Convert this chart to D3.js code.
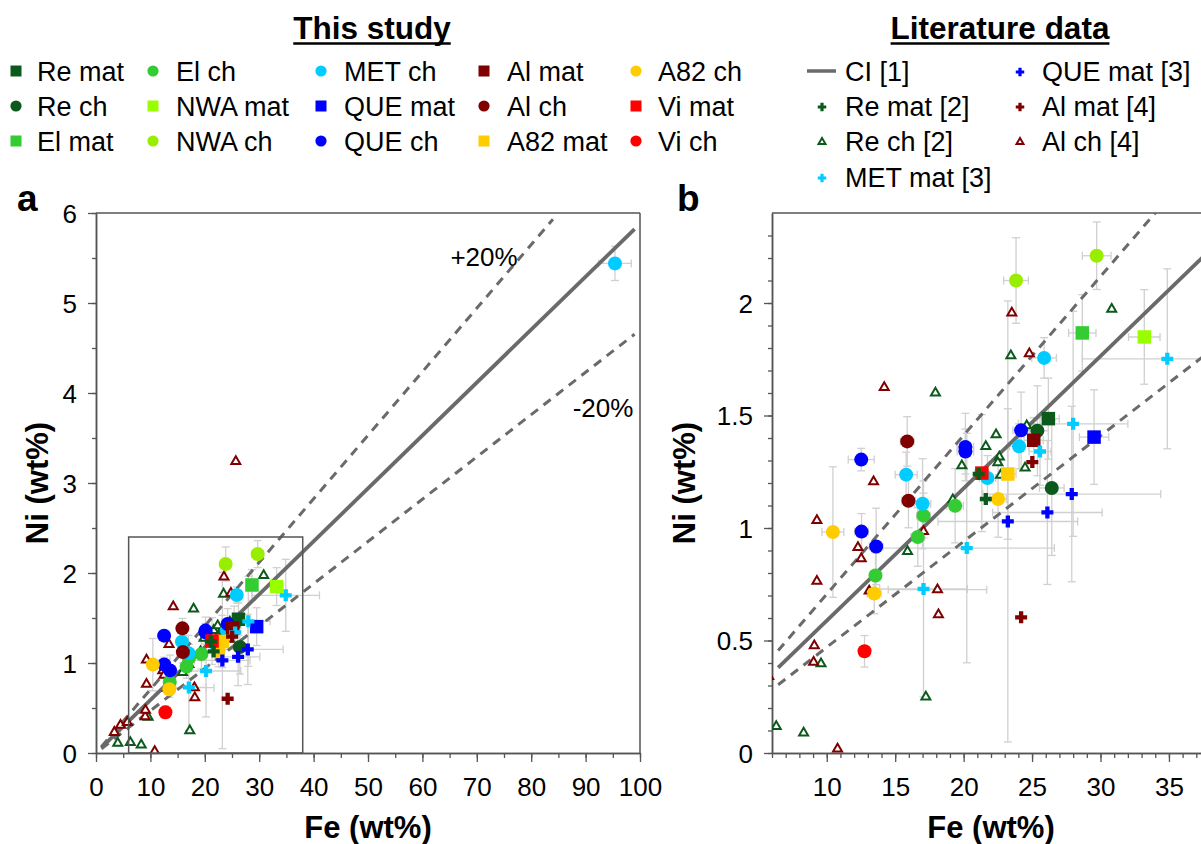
<!DOCTYPE html>
<html>
<head>
<meta charset="utf-8">
<script src="https://cdn.jsdelivr.net/npm/d3@7"></script>
<style>
body { margin: 0; background: #fff; }
text { font-family: "Liberation Sans", Arial, sans-serif; }
</style>
</head>
<body>
<svg id="chart" width="1201" height="844"></svg>
<script>
// ---- data: [Fe, Ni, errFe, errNi] ----
// this study
var reMat  = [[26.19, 1.486, 0.8, 0.18]];
var reCh   = [[25.39, 1.432, 0.8, 0.2], [26.44, 1.178, 0.9, 0.3]];
var elMat  = [[28.67, 1.867, 1.0, 0.17]];
var elCh   = [[13.56, 0.789, 0.4, 0.1], [16.65, 0.96, 0.5, 0.13], [17.07, 1.055, 0.5, 0.1], [19.38, 1.099, 0.6, 0.165]];
var nwaMat = [[33.2, 1.849, 1.15, 0.21]];
var nwaCh  = [[23.83, 2.10, 0.9, 0.19], [29.72, 2.21, 1.05, 0.15]];
var metCh  = [[15.8, 1.237, 0.8, 0.1], [17.0, 1.108, 0.6, 0.2], [21.74, 1.222, 0.6, 0.1], [24.05, 1.363, 0.7, 0.1], [25.88, 1.756, 0.9, 0.09], [95.4, 5.44, 3.0, 0.19]];
var queMat = [[29.53, 1.404, 1.07, 0.21]];
var queCh  = [[12.52, 1.304, 0.95, 0.05], [12.54, 0.984, 0.5, 0.08], [13.61, 0.918, 0.5, 0.17], [20.13, 1.36, 0.6, 0.15], [20.13, 1.34, 0.6, 0.1], [24.2, 1.434, 0.6, 0.17]];
var alMat  = [[25.12, 1.39, 0.7, 0.1]];
var alCh   = [[15.88, 1.385, 0.5, 0.11], [15.97, 1.121, 0.5, 0.12]];
var a82Mat = [[23.23, 1.24, 0.6, 0.29]];
var a82Ch  = [[10.45, 0.982, 0.8, 0.29], [13.47, 0.709, 0.5, 0.09], [22.52, 1.129, 0.6, 0.17]];
var viMat  = [[21.33, 1.244, 0.5, 0.26]];
var viCh   = [[12.76, 0.452, 0.4, 0.07]];

// literature
var litReMat  = [[21.1, 1.24, 0, 0], [21.62, 1.129, 0, 0]];
var litReCh   = [[4.0, 0.11], [6.31, 0.118], [8.31, 0.089], [9.58, 0.397], [15.9, 0.896], [17.24, 0.249], [17.94, 1.6], [19.21, 1.126], [19.87, 1.277], [21.62, 1.363], [22.37, 1.415], [22.61, 1.316], [22.5, 1.29], [22.7, 1.235], [23.45, 1.766], [24.49, 1.267], [24.61, 1.455], [30.82, 1.973]];
var litMetMat = [[17.07, 0.729, 3.2, 0.48], [20.23, 0.911, 6.4, 0.51], [25.58, 1.34, 0.8, 0.15], [28.0, 1.463, 4.0, 0.5], [34.88, 1.752, 6.2, 0.4]];
var litQueMat = [[23.23, 1.029, 5.1, 0.98], [26.12, 1.069, 4.0, 0.32], [27.9, 1.151, 6.5, 0.39]];
var litAlMat  = [[25.02, 1.293, 0, 0], [24.2, 0.603, 0, 0]];
var litAlCh   = [[3.37, 0.23], [4.5, 0.31], [5.76, 0.34], [9.04, 0.404], [9.09, 0.477], [9.28, 0.764], [9.28, 1.034], [10.79, 0.018], [12.28, 0.914], [12.52, 0.864], [13.1, 0.72], [13.42, 1.206], [14.2, 1.625], [17.07, 0.985], [18.09, 0.726, 3.6, 0], [18.16, 0.615], [23.52, 1.956], [24.8, 1.775], [25.7, 3.24]];

// CI line and +-20 %
var lineNames = ["CI", "+20%", "-20%"];
var lineRatios = [0.0588, 0.0706, 0.047];
var lineFeA = [[1, 99], [1, 84], [1, 99]];
var lineFeB = [[6.45, 40], [6.45, 40], [6.45, 40]];

// ticks
var xMajorA = d3.range(0, 101, 10), xMinorA = d3.range(0, 101, 5);
var yMajorA = d3.range(0, 7, 1),    yMinorA = d3.range(0, 6.01, 0.5);
var xMajorB = [10, 15, 20, 25, 30, 35], xMinorB = d3.range(6, 39, 1);
var yMajorB = [0, 0.5, 1, 1.5, 2],   yMinorB = d3.range(0, 24, 1).map(function (d) { return d / 10; });

var study = [
    {label: "Re mat",  color: "#0b5a1c", shape: "square", data: reMat},
    {label: "Re ch",   color: "#0b5a1c", shape: "circle", data: reCh},
    {label: "El mat",  color: "#33cc33", shape: "square", data: elMat},
    {label: "El ch",   color: "#33cc33", shape: "circle", data: elCh},
    {label: "NWA mat", color: "#99ff00", shape: "square", data: nwaMat},
    {label: "NWA ch",  color: "#99ee00", shape: "circle", data: nwaCh},
    {label: "MET ch",  color: "#00ccff", shape: "circle", data: metCh},
    {label: "QUE mat", color: "#0000ff", shape: "square", data: queMat},
    {label: "QUE ch",  color: "#0000ff", shape: "circle", data: queCh},
    {label: "Al mat",  color: "#800000", shape: "square", data: alMat},
    {label: "Al ch",   color: "#800000", shape: "circle", data: alCh},
    {label: "A82 mat", color: "#ffcc00", shape: "square", data: a82Mat},
    {label: "A82 ch",  color: "#ffcc00", shape: "circle", data: a82Ch},
    {label: "Vi mat",  color: "#ff0000", shape: "square", data: viMat},
    {label: "Vi ch",   color: "#ff0000", shape: "circle", data: viCh}
];
var lit = [
    {label: "Re mat [2]",  color: "#0b5a1c", shape: "plus", data: litReMat},
    {label: "Re ch [2]",   color: "#0b5a1c", shape: "tri",  data: litReCh},
    {label: "MET mat [3]", color: "#00ccff", shape: "plus", data: litMetMat},
    {label: "QUE mat [3]", color: "#0000ff", shape: "plus", data: litQueMat},
    {label: "Al mat [4]",  color: "#800000", shape: "plus", data: litAlMat},
    {label: "Al ch [4]",   color: "#800000", shape: "tri",  data: litAlCh}
];

var svg = d3.select("#chart");
var lineColor = "#6a6a6a";
var axisColor = "#555";

function plusPath(w, t) {
    var h = w / 2, k = t / 2;
    return "M" + (-k) + "," + (-h) + "H" + k + "V" + (-k) + "H" + h + "V" + k + "H" + k + "V" + h +
        "H" + (-k) + "V" + k + "H" + (-h) + "V" + (-k) + "H" + (-k) + "Z";
}
function triPath(s) {
    return "M0," + (-s * 0.577) + "L" + (s / 2) + "," + (s * 0.289) + "L" + (-s / 2) + "," + (s * 0.289) + "Z";
}

function drawMarker(g, shape, color, cx, cy, big) {
    if (shape == "square") {
        var s = big ? 13.5 : 11;
        g.append("rect").attr("x", cx - s / 2).attr("y", cy - s / 2).attr("width", s).attr("height", s).attr("fill", color);
    } else if (shape == "circle") {
        g.append("circle").attr("cx", cx).attr("cy", cy).attr("r", big ? 7 : 5.6).attr("fill", color);
    } else if (shape == "plus") {
        g.append("path").attr("d", plusPath(big ? 12 : 8.5, big ? 4.3 : 3.2))
            .attr("transform", "translate(" + cx + "," + cy + ")").attr("fill", color);
    } else if (shape == "tri") {
        g.append("path").attr("d", triPath(big ? 9 : 7))
            .attr("transform", "translate(" + cx + "," + cy + ")")
            .attr("fill", "#fff").attr("stroke", color).attr("stroke-width", 2);
    }
}

function drawPanel(x, y, xMaj, xMin, yMaj, yMin, lineFe, clipId) {
    var x0 = x.range()[0], x1 = x.range()[1], y0 = y.range()[0], y1 = y.range()[1];

    // frame top and right
    svg.append("line").attr("x1", x0).attr("x2", x1).attr("y1", y1).attr("y2", y1)
        .attr("stroke", axisColor).attr("stroke-width", 1.5);
    svg.append("line").attr("x1", x1).attr("x2", x1).attr("y1", y1).attr("y2", y0)
        .attr("stroke", axisColor).attr("stroke-width", 1.5);

    // axes
    var gx = svg.append("g").attr("transform", "translate(0," + y0 + ")");
    gx.call(d3.axisBottom(x).tickValues(xMin).tickSize(5).tickSizeOuter(0).tickFormat(""));
    var gx2 = svg.append("g").attr("transform", "translate(0," + y0 + ")");
    gx2.call(d3.axisBottom(x).tickValues(xMaj).tickSize(9).tickSizeOuter(0).tickPadding(16).tickFormat(d3.format("~g")));
    var gy = svg.append("g").attr("transform", "translate(" + x0 + ",0)");
    gy.call(d3.axisLeft(y).tickValues(yMin).tickSize(4).tickSizeOuter(0).tickFormat(""));
    var gy2 = svg.append("g").attr("transform", "translate(" + x0 + ",0)");
    gy2.call(d3.axisLeft(y).tickValues(yMaj).tickSize(8).tickSizeOuter(0).tickPadding(11).tickFormat(d3.format("~g")));
    [gx, gx2, gy, gy2].forEach(function (g) {
        g.selectAll("path.domain").attr("stroke", axisColor).attr("stroke-width", 1.5);
        g.selectAll(".tick line").attr("stroke", axisColor).attr("stroke-width", 1.3);
        g.selectAll(".tick text").attr("font-size", 26).attr("fill", "#000")
            .attr("font-family", "'Liberation Sans', Arial, sans-serif");
    });
    gy2.selectAll(".tick text").attr("dy", "0.35em");

    svg.append("clipPath").attr("id", clipId).append("rect")
        .attr("x", x0).attr("y", y1).attr("width", x1 - x0).attr("height", y0 - y1);
    var plot = svg.append("g").attr("clip-path", "url(#" + clipId + ")");

    // error bars
    var eb = plot.append("g").attr("stroke", "#d0d0d0").attr("stroke-width", 1.3).attr("fill", "none");
    study.concat(lit).forEach(function (s) {
        s.data.forEach(function (d) {
            var cx = x(d[0]), cy = y(d[1]);
            if (d[2]) {
                var xa = x(d[0] - d[2]), xb = x(d[0] + d[2]);
                eb.append("line").attr("x1", xa).attr("x2", xb).attr("y1", cy).attr("y2", cy);
                eb.append("line").attr("x1", xa).attr("x2", xa).attr("y1", cy - 4).attr("y2", cy + 4);
                eb.append("line").attr("x1", xb).attr("x2", xb).attr("y1", cy - 4).attr("y2", cy + 4);
            }
            if (d[3]) {
                var ya = y(d[1] - d[3]), yb = y(d[1] + d[3]);
                eb.append("line").attr("x1", cx).attr("x2", cx).attr("y1", ya).attr("y2", yb);
                eb.append("line").attr("x1", cx - 4).attr("x2", cx + 4).attr("y1", ya).attr("y2", ya);
                eb.append("line").attr("x1", cx - 4).attr("x2", cx + 4).attr("y1", yb).attr("y2", yb);
            }
        });
    });

    // CI and +-20 % lines
    lineRatios.forEach(function (r, i) {
        var fe = lineFe[i];
        plot.append("line")
            .attr("x1", x(fe[0])).attr("y1", y(fe[0] * r))
            .attr("x2", x(fe[1])).attr("y2", y(fe[1] * r))
            .attr("stroke", lineColor)
            .attr("stroke-width", i == 0 ? 3.8 : 3)
            .attr("stroke-dasharray", i == 0 ? null : "9,7");
    });

    // markers: triangles, this study, crosses
    var mk = plot.append("g");
    lit.filter(function (s) { return s.shape == "tri"; }).forEach(function (s) {
        s.data.forEach(function (d) { drawMarker(mk, s.shape, s.color, x(d[0]), y(d[1]), true); });
    });
    study.forEach(function (s) {
        s.data.forEach(function (d) { drawMarker(mk, s.shape, s.color, x(d[0]), y(d[1]), true); });
    });
    lit.filter(function (s) { return s.shape == "plus"; }).forEach(function (s) {
        s.data.forEach(function (d) { drawMarker(mk, s.shape, s.color, x(d[0]), y(d[1]), true); });
    });
}

var xa = d3.scaleLinear().domain([0, 100]).range([96, 640]);
var ya = d3.scaleLinear().domain([0, 6]).range([753, 213]);
var xb = d3.scaleLinear().domain([6, 38]).range([772, 1210]);
var yb = d3.scaleLinear().domain([0, 2.4]).range([753, 213]);

drawPanel(xa, ya, xMajorA, xMinorA, yMajorA, yMinorA, lineFeA, "clipA");
drawPanel(xb, yb, xMajorB, xMinorB, yMajorB, yMinorB, lineFeB, "clipB");

// zoom box in panel a
svg.append("rect")
    .attr("x", xa(6)).attr("y", ya(2.4))
    .attr("width", xa(38) - xa(6)).attr("height", ya(0) - ya(2.4))
    .attr("fill", "none").attr("stroke", axisColor).attr("stroke-width", 1.5);

// line labels
svg.append("text").attr("x", 484).attr("y", 266).attr("text-anchor", "middle").attr("font-size", 26).text(lineNames[1]);
svg.append("text").attr("x", 603).attr("y", 417).attr("text-anchor", "middle").attr("font-size", 26).text(lineNames[2]);

// axis titles
[[xa, 48], [xb, 695]].forEach(function (p) {
    var sx = p[0];
    svg.append("text").attr("x", (sx.range()[0] + sx.range()[1]) / 2).attr("y", 838)
        .attr("text-anchor", "middle").attr("font-size", 31).attr("font-weight", "bold").text("Fe (wt%)");
    svg.append("text").attr("transform", "translate(" + p[1] + ",483) rotate(-90)")
        .attr("text-anchor", "middle").attr("font-size", 31).attr("font-weight", "bold").text("Ni (wt%)");
});

// panel letters
svg.append("text").attr("x", 17).attr("y", 211).attr("font-size", 37).attr("font-weight", "bold").text("a");
svg.append("text").attr("x", 677).attr("y", 211).attr("font-size", 37).attr("font-weight", "bold").text("b");

// legend titles
function title(txt, cx) {
    var t = svg.append("text").attr("x", cx).attr("y", 39).attr("text-anchor", "middle")
        .attr("font-size", 31.5).attr("font-weight", "bold").text(txt);
    var w = t.node().getComputedTextLength();
    svg.append("line").attr("x1", cx - w / 2).attr("x2", cx + w / 2).attr("y1", 43.5).attr("y2", 43.5)
        .attr("stroke", "#000").attr("stroke-width", 2.5);
}
title("This study", 372);
title("Literature data", 1000);

// legend: this study
var colMark = [16, 153, 321, 484, 636];
var colText = [37, 176, 344, 507, 658];
var rowY = [71, 106, 141, 177];
var leg = svg.append("g");
study.forEach(function (s, i) {
    var c = Math.floor(i / 3), r = i % 3;
    drawMarker(leg, s.shape, s.color, colMark[c], rowY[r], false);
    leg.append("text").attr("x", colText[c]).attr("y", rowY[r] + 9.5).attr("font-size", 27).text(s.label);
});

// legend: literature
var litMark = [822, 1020];
var litText = [845, 1042];
var litItems = [{label: "CI [1]", shape: "line"}].concat(lit);
litItems.forEach(function (s, i) {
    var c = i < 4 ? 0 : 1, r = i < 4 ? i : i - 4;
    if (s.shape == "line") {
        leg.append("line").attr("x1", 807).attr("x2", 836).attr("y1", rowY[r]).attr("y2", rowY[r])
            .attr("stroke", lineColor).attr("stroke-width", 3.5);
    } else {
        drawMarker(leg, s.shape, s.color, litMark[c], rowY[r] + 1, false);
    }
    leg.append("text").attr("x", litText[c]).attr("y", rowY[r] + 9.5).attr("font-size", 27).text(s.label);
});
</script>
</body>
</html>
